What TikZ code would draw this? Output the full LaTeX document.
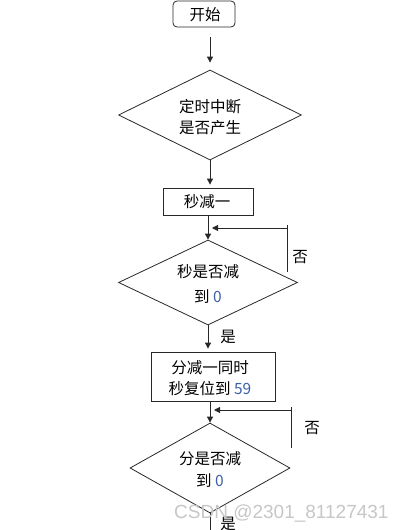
\documentclass[tikz,border=0pt]{standalone}
\usepackage{fontspec}
\newfontfamily\cjk{Noto Sans CJK SC}
\newfontfamily\wm{Liberation Sans}
\usetikzlibrary{shapes.geometric,arrows.meta}
\definecolor{digit}{RGB}{60,95,170}
\definecolor{ln}{RGB}{40,40,40}
\tikzset{
  lbl/.style={font=\cjk\fontsize{15.5}{19}\selectfont, inner sep=0pt, align=center},
  dia/.style={diamond, draw=ln, line width=0.8pt, inner sep=0pt, aspect=2},
  boxs/.style={rectangle, draw=ln, line width=0.8pt, inner sep=0pt},
  arr/.style={draw=ln, line width=0.9pt, -{Triangle[length=6pt,width=6pt]}},
  ln/.style={draw=ln, line width=0.9pt}
}
\begin{document}
\begin{tikzpicture}[x=1pt,y=-1pt]
\useasboundingbox (0,0) rectangle (402,530);
\fill[white] (0,0) rectangle (402,530);
% nodes
\node[boxs, rounded corners=4pt, minimum width=62pt, minimum height=26pt] (start) at (204,14) {};
\node[lbl] (startt) at (205,15) {开始};
\node[dia, minimum width=183pt, minimum height=90pt] (d1) at (210,115) {};
\node[lbl] (d1t) at (210,117) {定时中断\\[2pt]是否产生};
\node[boxs, minimum width=90pt, minimum height=27pt] (b1) at (208,201.5) {};
\node[lbl] (b1t) at (207,202) {秒减一};
\node[dia, minimum width=179pt, minimum height=85pt] (d2) at (208,282.5) {};
\node[lbl] (d2t) at (208,284) {秒是否减\\[6pt]到 {\color{digit}0}};
\node[boxs, minimum width=124pt, minimum height=49pt] (b2) at (213,376.5) {};
\node[lbl] (b2t) at (210,378) {分减一同时\\[2pt]秒复位到 {\color{digit}59}};
\node[dia, minimum width=160pt, minimum height=90pt] (d3) at (210,468) {};
\node[lbl] (d3t) at (210,469) {分是否减\\[3pt]到 {\color{digit}0}};
% labels
\node[lbl] (no1) at (300,257) {否};
\node[lbl] (yes1) at (228,337) {是};
\node[lbl] (no2) at (312,428) {否};
\node[lbl] (yes2) at (228,524) {是};
% coordinates
\coordinate (f1top) at (287,225);
\coordinate (f1bot) at (287,272);
\coordinate (f1in) at (287,228);
\coordinate (f1end) at (212,228);
\coordinate (f2top) at (291,407);
\coordinate (f2bot) at (291,448);
\coordinate (f2in) at (291,410);
\coordinate (f2end) at (214,410);
\coordinate (end) at (210,532);
% connectors
\draw[arr, shorten <=10pt, shorten >=7pt] (d1.north |- start.south) -- (d1.north);
\draw[arr, shorten >=3pt] (d1.south) -- (d1.south |- b1.north);
\draw[arr] (d2.north |- b1.south) -- (d2.north);
\draw[ln] (f1top) -- (f1bot);
\draw[arr] (f1in) -- (f1end);
\draw[arr, shorten >=3pt] (d2.south) -- (d2.south |- b2.north);
\draw[arr] (d3.north |- b2.south) -- (d3.north);
\draw[ln] (f2top) -- (f2bot);
\draw[arr] (f2in) -- (f2end);
\draw[ln] (d3.south) -- (end);
% watermark
\node[font=\wm\fontsize{19}{22}\selectfont, text=black!22, inner sep=0pt, anchor=base west] (wm) at (174,518) {CSDN @2301\_81127431};
\end{tikzpicture}
\end{document}
